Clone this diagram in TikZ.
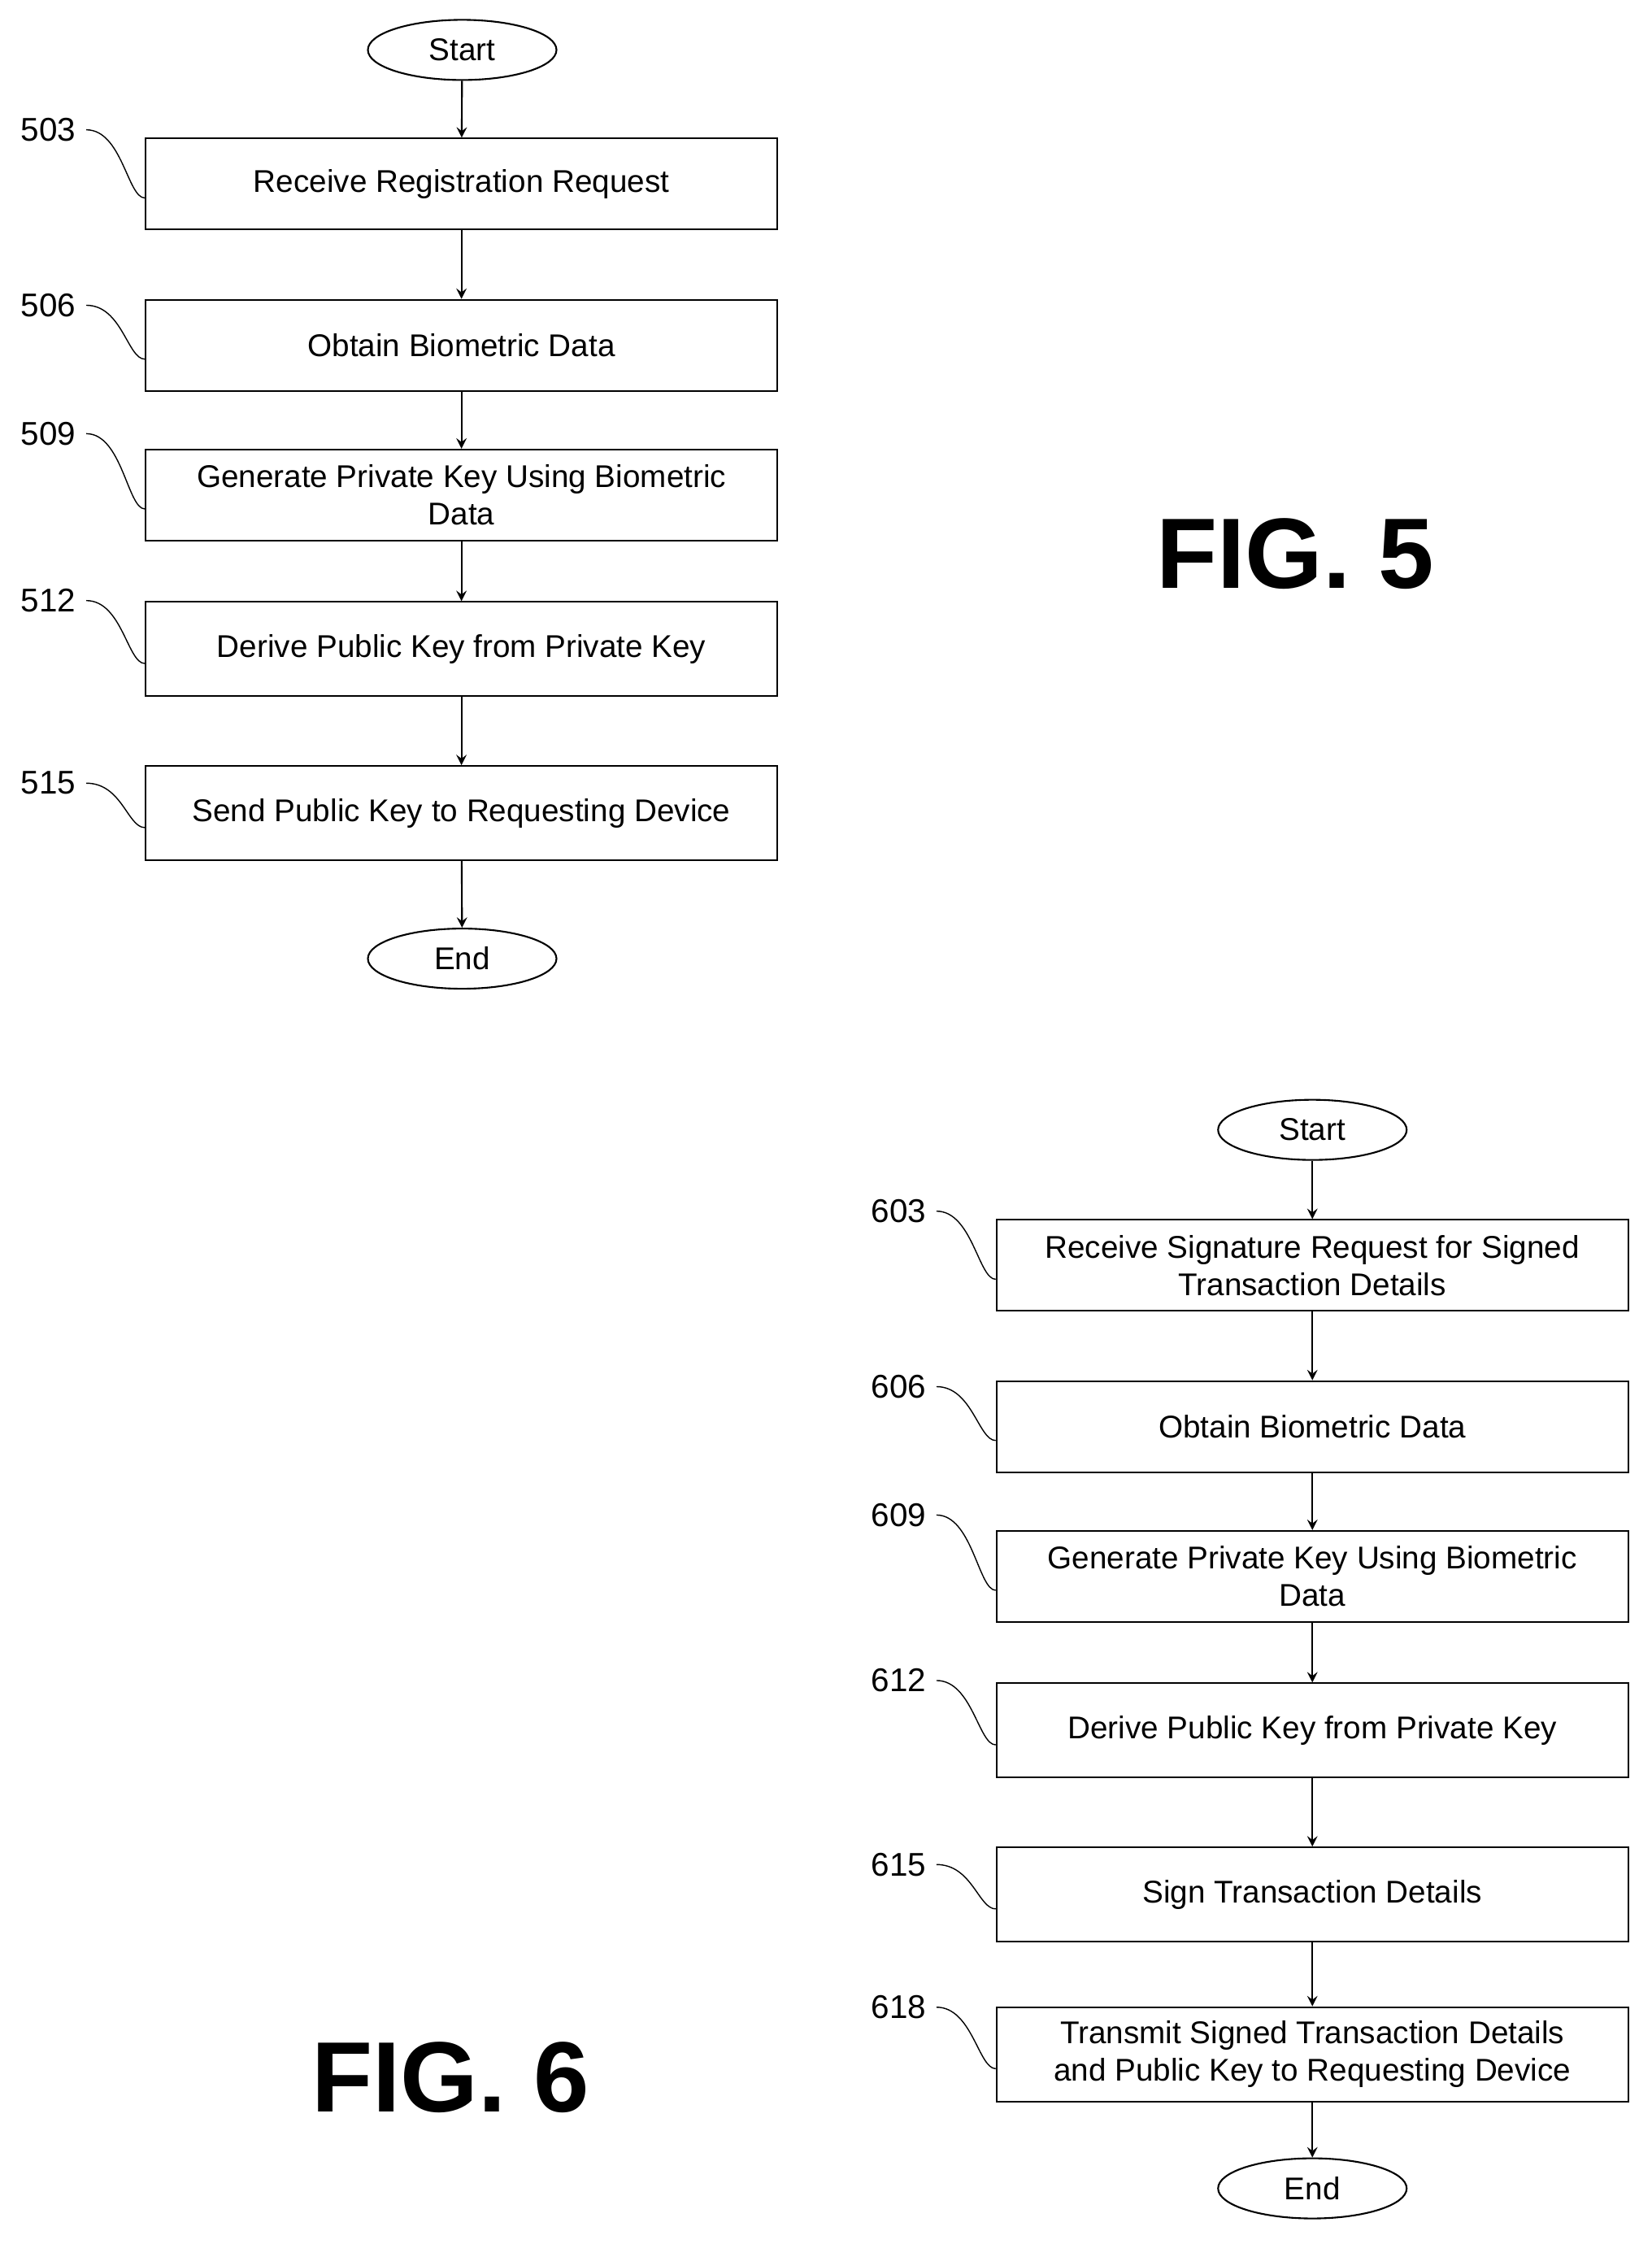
\documentclass[tikz,border=0pt]{standalone}
\usepackage{fontspec}
\setmainfont{Liberation Sans}
\usetikzlibrary{calc,shapes.geometric}

\begin{document}
\begin{tikzpicture}[
    x=0.01754cm, y=-0.01754cm,
    semithick,
    term/.style={draw,ellipse,minimum width=2.32cm,minimum height=0.74cm,inner sep=0pt,font=\fontsize{11}{13}\selectfont},
    stepbox/.style={draw,minimum width=7.77cm,minimum height=1.12cm,inner sep=1pt,align=center,font=\fontsize{11}{13}\selectfont},
    ref/.style={font=\fontsize{11.5}{13}\selectfont},
    flow/.style={draw,->,>=stealth},
    lead/.style={draw,thin},
    fig/.style={font=\bfseries\fontsize{35}{40}\selectfont},
  ]

  \useasboundingbox (0,0) rectangle (1158,1573);

  % figure 5

  \node (s5) at (324,35) [term] {Start};
  \node (b503) at (323.5,129) [stepbox] {Receive Registration Request};
  \node (b506) at (323.5,242) [stepbox] {Obtain Biometric Data};
  \node (b509) at (323.5,347) [stepbox] {Generate Private Key Using Biometric\\Data};
  \node (b512) at (323.5,455) [stepbox,minimum height=1.16cm] {Derive Public Key from Private Key};
  \node (b515) at (323.5,570) [stepbox,minimum height=1.16cm] {Send Public Key to Requesting Device};
  \node (e5) at (324,672) [term] {End};

  \draw[flow] (s5) -- (b503);
  \draw[flow] (b503) -- (b506);
  \draw[flow] (b506) -- (b509);
  \draw[flow] (b509) -- (b512);
  \draw[flow] (b512) -- (b515);
  \draw[flow] (b515) -- (e5);

  \foreach \n/\y in {503/91,506/214,509/304,512/421,515/549}
    \node (l\n) at (34,\y) [ref] {\n};

  \foreach \n in {503,506,509,512,515}
    \draw[lead] (l\n.east) .. controls +(25,0) and +(-12,0) .. ($(b\n.south west)!0.35!(b\n.north west)$);

  \node (f5) at (908,388) [fig] {FIG. 5};

  % figure 6

  \node (s6) at (920,792) [term] {Start};
  \node (b603) at (920,887) [stepbox] {Receive Signature Request for Signed\\Transaction Details};
  \node (b606) at (920,1000) [stepbox] {Obtain Biometric Data};
  \node (b609) at (920,1105) [stepbox] {Generate Private Key Using Biometric\\Data};
  \node (b612) at (920,1213) [stepbox,minimum height=1.16cm] {Derive Public Key from Private Key};
  \node (b615) at (920,1328) [stepbox,minimum height=1.16cm] {Sign Transaction Details};
  \node (b618) at (920,1440) [stepbox,minimum height=1.16cm] {Transmit Signed Transaction Details\\and Public Key to Requesting Device};
  \node (e6) at (920,1534) [term] {End};

  \draw[flow] (s6) -- (b603);
  \draw[flow] (b603) -- (b606);
  \draw[flow] (b606) -- (b609);
  \draw[flow] (b609) -- (b612);
  \draw[flow] (b612) -- (b615);
  \draw[flow] (b615) -- (b618);
  \draw[flow] (b618) -- (e6);

  \foreach \n/\y in {603/849,606/972,609/1062,612/1178,615/1307,618/1407}
    \node (l\n) at (630,\y) [ref] {\n};

  \foreach \n in {603,606,609,612,615,618}
    \draw[lead] (l\n.east) .. controls +(25,0) and +(-12,0) .. ($(b\n.south west)!0.35!(b\n.north west)$);

  \node (f6) at (316,1456) [fig] {FIG. 6};

\end{tikzpicture}
\end{document}
